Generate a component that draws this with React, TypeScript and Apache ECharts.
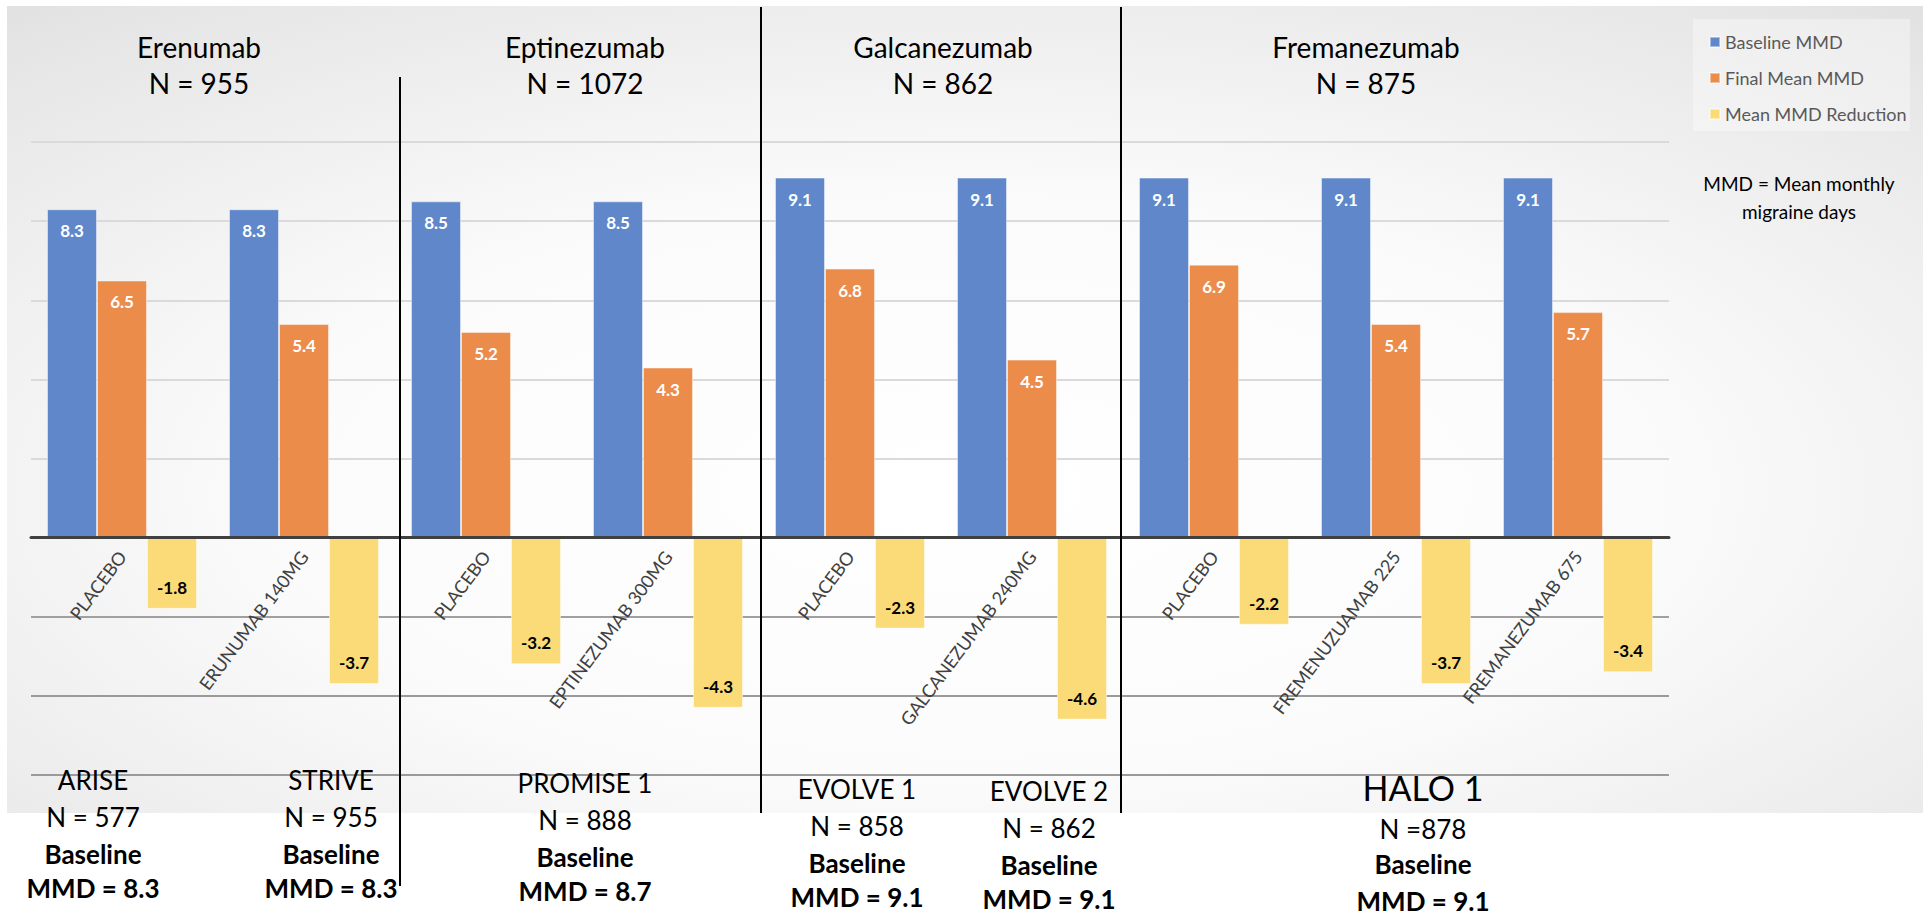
import React, { useEffect, useRef } from 'react';
import * as echarts from 'echarts';

const categories = [
  'PLACEBO',
  'ERUNUMAB 140MG',
  'PLACEBO',
  'EPTINEZUMAB 300MG',
  'PLACEBO',
  'GALCANEZUMAB 240MG',
  'PLACEBO',
  'FREMENUZUAMAB 225',
  'FREMANEZUMAB 675',
];
const baselineMMD = [8.3, 8.3, 8.5, 8.5, 9.1, 9.1, 9.1, 9.1, 9.1];
const finalMeanMMD = [6.5, 5.4, 5.2, 4.3, 6.8, 4.5, 6.9, 5.4, 5.7];
const meanMMDReduction = [-1.8, -3.7, -3.2, -4.3, -2.3, -4.6, -2.2, -3.7, -3.4];
const seriesNames = ['Baseline MMD', 'Final Mean MMD', 'Mean MMD Reduction'];

const drugNames = ['Erenumab', 'Eptinezumab', 'Galcanezumab', 'Fremanezumab'];
const drugN = ['N = 955', 'N = 1072', 'N = 862', 'N = 875'];

const studyNames = ['ARISE', 'STRIVE', 'PROMISE 1', 'EVOLVE 1', 'EVOLVE 2', 'HALO 1'];
const studyN = ['N = 577', 'N = 955', 'N = 888', 'N = 858', 'N = 862', 'N =878'];
const studyBaselineMMD = ['8.3', '8.3', '8.7', '9.1', '9.1', '9.1'];

const footnoteLines = ['MMD = Mean monthly', 'migraine days'];

// ---- layout (positions / styles) ----
const FONT = 'Lato, "Noto Sans", sans-serif';
const COLORS = ['#5f87ca', '#ec8c4b', '#fbda78'];
const drugTitleX = [199, 585, 943, 1366];
const studyLayout = [
  { x: 93, y: 780, big: false },
  { x: 331, y: 780, big: false },
  { x: 585, y: 783, big: false },
  { x: 857, y: 789, big: false },
  { x: 1049, y: 791, big: false },
  { x: 1423, y: 787, big: true },
];
const separators = [
  { x: 400, y1: 77, y2: 886 },
  { x: 761, y1: 7, y2: 813 },
  { x: 1121, y1: 7, y2: 813 },
];
const GRID_LEFT = 31;
const GRID_TOP = 142;
const GRID_W = 1638;
const GRID_H = 633;
const ZERO_H = 395; // distance from grid top to the zero line

function textEl(text: string, x: number, y: number, size: number, bold = false, fill = '#000') {
  return {
    type: 'text',
    x,
    y,
    z: 100,
    style: {
      text,
      fill,
      fontSize: size,
      fontFamily: FONT,
      fontWeight: bold ? 'bold' : 'normal',
      align: 'center',
      verticalAlign: 'middle',
    },
  };
}

export default function App() {
  const ref = useRef<HTMLDivElement>(null);

  useEffect(() => {
    if (!ref.current) return;
    const chart = echarts.init(ref.current, null, { renderer: 'svg' });

    const graphics: any[] = [];
    graphics.push({
      type: 'rect',
      z: -100,
      shape: { x: 7, y: 6, width: 1916, height: 807 },
      style: {
        fill: {
          type: 'radial',
          x: 0.5,
          y: 0.6,
          r: 1.2,
          colorStops: [
            { offset: 0, color: '#ffffff' },
            { offset: 0.3, color: '#fbfbfb' },
            { offset: 0.6, color: '#e6e6e6' },
            { offset: 0.8, color: '#d3d3d3' },
            { offset: 1, color: '#bdbdbd' },
          ],
        },
      },
    });
    graphics.push({
      type: 'rect',
      z: -50,
      shape: { x: 1693, y: 19, width: 217, height: 112 },
      style: { fill: 'rgba(255,255,255,0.35)' },
    });
    separators.forEach((s) => {
      graphics.push({
        type: 'line',
        z: 100,
        shape: { x1: s.x, y1: s.y1, x2: s.x, y2: s.y2 },
        style: { stroke: '#000', lineWidth: 2 },
      });
    });
    drugNames.forEach((name, i) => {
      graphics.push(textEl(name, drugTitleX[i], 47, 28));
      graphics.push(textEl(drugN[i], drugTitleX[i], 83, 28));
    });
    studyNames.forEach((name, i) => {
      const L = studyLayout[i];
      const off = L.big ? [0, 42, 77, 114] : [0, 37, 74, 108];
      graphics.push(textEl(name, L.x, L.y + off[0], L.big ? 34 : 26));
      graphics.push(textEl(studyN[i], L.x, L.y + off[1], 26));
      graphics.push(textEl('Baseline', L.x, L.y + off[2], 26, true));
      graphics.push(textEl('MMD = ' + studyBaselineMMD[i], L.x, L.y + off[3], 26, true));
    });
    footnoteLines.forEach((t, i) => {
      graphics.push(textEl(t, 1799, 183 + i * 28, 19));
    });

    const barLabel = (pos: string, color: string) => ({
      show: true,
      position: pos,
      distance: 13,
      color,
      fontSize: 17,
      fontWeight: 'bold',
      fontFamily: FONT,
    });

    const option: any = {
      animation: false,
      textStyle: { fontFamily: FONT },
      grid: [
        { left: GRID_LEFT, top: GRID_TOP, width: GRID_W, height: GRID_H, containLabel: false },
        { left: GRID_LEFT, top: GRID_TOP, width: GRID_W, height: ZERO_H, containLabel: false },
      ],
      legend: {
        orient: 'vertical',
        left: 1704,
        top: 28,
        itemWidth: 10,
        itemHeight: 10,
        itemGap: 18,
        icon: 'rect',
        textStyle: { color: '#595959', fontSize: 18, fontFamily: FONT },
        data: seriesNames,
      },
      xAxis: [
        {
          type: 'category',
          gridIndex: 0,
          data: categories,
          axisTick: { show: false },
          axisLine: { show: false },
          axisLabel: { show: false },
        },
        {
          type: 'category',
          gridIndex: 1,
          data: categories,
          z: 10,
          axisTick: { show: false },
          axisLine: { show: true, onZero: false, lineStyle: { color: '#404040', width: 3 } },
          axisLabel: {
            interval: 0,
            rotate: 53,
            margin: 16,
            color: '#404040',
            fontSize: 18,
            fontFamily: FONT,
          },
        },
      ],
      yAxis: [
        {
          type: 'value',
          gridIndex: 0,
          min: -6,
          max: 10,
          interval: 2,
          axisLabel: { show: false },
          axisLine: { show: false },
          axisTick: { show: false },
          splitLine: {
            show: true,
            lineStyle: {
              width: 2,
              color: [
                '#9a9a9a',
                '#9a9a9a',
                '#a0a0a0',
                '#404040',
                '#dadada',
                '#dadada',
                '#dadada',
                '#dadada',
                '#dadada',
              ],
            },
          },
        },
        {
          type: 'value',
          gridIndex: 1,
          min: 0,
          max: 10,
          show: false,
        },
      ],
      series: [
        {
          name: seriesNames[0],
          type: 'bar',
          xAxisIndex: 0,
          yAxisIndex: 0,
          data: baselineMMD,
          barWidth: 50,
          barGap: '0%',
          itemStyle: { color: COLORS[0], borderColor: 'rgba(255,255,255,0.45)', borderWidth: 1 },
          label: barLabel('insideTop', '#ffffff'),
        },
        {
          name: seriesNames[1],
          type: 'bar',
          xAxisIndex: 0,
          yAxisIndex: 0,
          data: finalMeanMMD,
          barWidth: 50,
          barGap: '0%',
          itemStyle: { color: COLORS[1], borderColor: 'rgba(255,255,255,0.45)', borderWidth: 1 },
          label: barLabel('insideTop', '#ffffff'),
        },
        {
          name: seriesNames[2],
          type: 'bar',
          xAxisIndex: 0,
          yAxisIndex: 0,
          data: meanMMDReduction,
          barWidth: 50,
          barGap: '0%',
          itemStyle: { color: COLORS[2], borderColor: 'rgba(255,255,255,0.45)', borderWidth: 1 },
          label: barLabel('insideBottom', '#000000'),
        },
      ],
      graphic: { elements: graphics },
    };

    chart.setOption(option);
    return () => chart.dispose();
  }, []);

  return (
    <div
      ref={ref}
      style={{ position: 'absolute', left: 0, top: 0, width: 1927, height: 916, background: '#ffffff' }}
    />
  );
}
